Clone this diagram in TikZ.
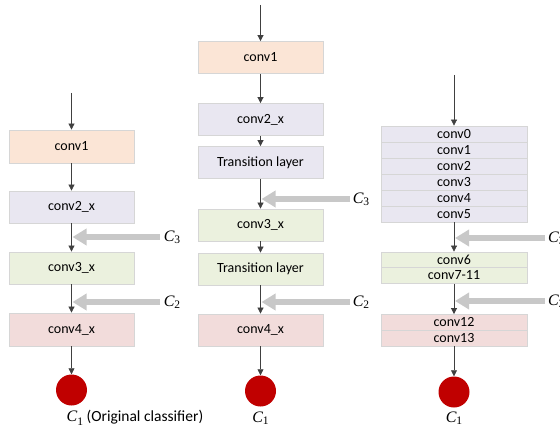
\documentclass[tikz,border=0pt]{standalone}
\usepackage{fontspec}
\setmainfont{Carlito}
\newfontfamily\lserif{Liberation Serif}
\usetikzlibrary{arrows.meta}
\definecolor{cOr}{HTML}{FBE5D6}
\definecolor{cLa}{HTML}{E9E7F1}
\definecolor{cGr}{HTML}{EBF1DE}
\definecolor{cPk}{HTML}{F2DCDB}
\definecolor{cBd}{HTML}{D6D6D6}
\definecolor{cRed}{HTML}{C00000}
\definecolor{cArr}{HTML}{C8C8C8}
\newcommand{\Clab}[1]{{\lserif\fontsize{16}{18}\selectfont\itshape C}\raisebox{-0.22em}{\lserif\fontsize{11.5}{13}\selectfont #1}}
\tikzset{
  blk/.style={draw=cBd, line width=0.8pt, minimum width=125pt, minimum height=32pt, inner sep=0pt, font=\fontsize{14}{16}\selectfont},
  row/.style={draw=cBd, line width=0.8pt, minimum width=146pt, minimum height=16pt, inner sep=0pt, font=\fontsize{14}{16}\selectfont},
  flow/.style={draw=black!75, line width=0.7pt, -{Triangle[length=6pt,width=6pt]}},
  side/.style={draw=cArr, line width=6pt, -{Triangle[length=14pt,width=16pt]}, shorten >=1pt},
  dot/.style={circle, fill=cRed, minimum size=31pt, inner sep=0pt},
  clab/.style={inner sep=0pt}
}
\begin{document}
\begin{tikzpicture}[x=1pt,y=-1pt]
\useasboundingbox (0,0) rectangle (560,428);
% ---- left column ----
\coordinate (Lin) at (71.5,93);
\node[blk, fill=cOr, minimum height=33pt] (L1) at (71.5,146.5) {conv1};
\node[blk, fill=cLa] (L2) at (71.5,207) {conv2\_x};
\node[blk, fill=cGr] (L3) at (71.5,268) {conv3\_x};
\node[blk, fill=cPk, minimum height=33pt] (L4) at (71.5,329.5) {conv4\_x};
\node[dot] (Ld) at (71.5,390) {};
\node[anchor=center, font=\fontsize{15.5}{17}\selectfont, inner sep=0pt] (Lt) at (135,418) {\Clab{1} (Original classifier)};
\draw[flow] (Lin) -- (L1);
\draw[flow] (L1) -- (L2);
\draw[flow] (L2) -- (L3);
\draw[flow] (L3) -- (L4);
\draw[flow] (L4) -- (Ld);
\coordinate (Lc3t) at (160,237);
\coordinate (Lc3h) at (71.5,237);
\coordinate (Lc2t) at (160,302);
\coordinate (Lc2h) at (71.5,302);
\draw[side] (Lc3t) -- (Lc3h);
\draw[side] (Lc2t) -- (Lc2h);
\node[clab] (Lc3) at (172,237) {\Clab{3}};
\node[clab] (Lc2) at (172,302) {\Clab{2}};
% ---- middle column ----
\coordinate (Min) at (260.5,5);
\node[blk, fill=cOr] (M1) at (260.5,57.5) {conv1};
\node[blk, fill=cLa] (M2) at (260.5,119.5) {conv2\_x};
\node[blk, fill=cLa] (M3) at (260.5,162.5) {Transition layer};
\node[blk, fill=cGr] (M4) at (260.5,225) {conv3\_x};
\node[blk, fill=cGr] (M5) at (260.5,269) {Transition layer};
\node[blk, fill=cPk] (M6) at (260.5,330) {conv4\_x};
\node[dot] (Md) at (260.5,391) {};
\node[clab] (Mt) at (260.5,418) {\Clab{1}};
\draw[flow] (Min) -- (M1);
\draw[flow] (M1) -- (M2);
\draw[flow] (M2) -- (M3);
\draw[flow] (M3) -- (M4);
\draw[flow] (M4) -- (M5);
\draw[flow] (M5) -- (M6);
\draw[flow] (M6) -- (Md);
\coordinate (Mc3t) at (350,199);
\coordinate (Mc3h) at (260.5,199);
\coordinate (Mc2t) at (350,302);
\coordinate (Mc2h) at (260.5,302);
\draw[side] (Mc3t) -- (Mc3h);
\draw[side] (Mc2t) -- (Mc2h);
\node[clab] (Mc3) at (361,199) {\Clab{3}};
\node[clab] (Mc2) at (361,302) {\Clab{2}};
% ---- right column ----
\coordinate (Rin) at (454,75);
\node[row, fill=cLa] (R0) at (454,134) {conv0};
\node[row, fill=cLa] (R1) at (454,150) {conv1};
\node[row, fill=cLa] (R2) at (454,166) {conv2};
\node[row, fill=cLa] (R3) at (454,182) {conv3};
\node[row, fill=cLa] (R4) at (454,198) {conv4};
\node[row, fill=cLa] (R5) at (454,214) {conv5};
\node[row, fill=cGr] (R6) at (454,260) {conv6};
\node[row, fill=cGr] (R7) at (454,275.5) {conv7-11};
\node[row, fill=cPk] (R12) at (454,322.5) {conv12};
\node[row, fill=cPk] (R13) at (454,338) {conv13};
\node[dot] (Rd) at (454,392) {};
\node[clab] (Rt) at (454,418) {\Clab{1}};
\draw[flow] (Rin) -- (R0);
\draw[flow] (R5) -- (R6);
\draw[flow] (R7) -- (R12);
\draw[flow] (R13) -- (Rd);
\coordinate (Rc3t) at (545,238);
\coordinate (Rc3h) at (454,238);
\coordinate (Rc2t) at (545,301);
\coordinate (Rc2h) at (454,301);
\draw[side] (Rc3t) -- (Rc3h);
\draw[side] (Rc2t) -- (Rc2h);
\node[clab, anchor=west] (Rc3) at (548,238) {\Clab{3}};
\node[clab, anchor=west] (Rc2) at (548,301) {\Clab{2}};
\end{tikzpicture}
\end{document}
